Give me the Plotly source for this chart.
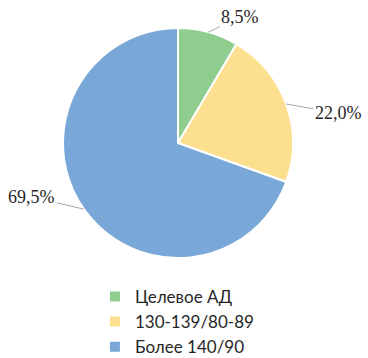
import math
import plotly.graph_objects as go

categories = ["Целевое АД", "130-139/80-89", "Более 140/90"]
values = [8.5, 22.0, 69.5]
value_labels = ["8,5%", "22,0%", "69,5%"]
colors = ["#8ECD8E", "#FDE08F", "#78A7D8"]

W, H = 368, 358
CX, CY, R = 178, 143, 115  # pie centre / radius in pixels
# label offsets (pixels) from the slice edge point
offsets = [(32, -15), (52, 9), (-52, -12)]

fig = go.Figure(go.Pie(
    labels=categories, values=values, sort=False, direction="clockwise", rotation=0,
    marker=dict(colors=colors, line=dict(color="white", width=2)),
    textinfo="none", hoverinfo="label+percent",
    domain=dict(x=[(CX - R) / W, (CX + R) / W],
                y=[1 - (CY + R) / H, 1 - (CY - R) / H]),
))

total = sum(values)
cum = 0
for v, lab, (ax, ay) in zip(values, value_labels, offsets):
    mid = (cum + v / 2) / total * 2 * math.pi
    cum += v
    px = CX + R * math.sin(mid)
    py = CY - R * math.cos(mid)
    fig.add_annotation(
        x=px / W, y=1 - py / H, xref="paper", yref="paper",
        text=lab, showarrow=True, arrowhead=0, arrowwidth=1, arrowcolor="#A6A6A6",
        ax=ax, ay=ay, standoff=0,
        font=dict(family="Liberation Serif, Times New Roman, serif", size=18, color="#262626"),
    )

fig.update_layout(
    width=W, height=H, margin=dict(l=0, r=0, t=0, b=0, autoexpand=False),
    paper_bgcolor="white", plot_bgcolor="white",
    showlegend=True,
    legend=dict(x=0.258, y=0.221, xanchor="left", yanchor="top",
                bgcolor="rgba(0,0,0,0)",
                font=dict(family="Lato, sans-serif", size=17, color="#262626"),
                itemwidth=30, tracegroupgap=0),
)
fig.write_html("out.html")
